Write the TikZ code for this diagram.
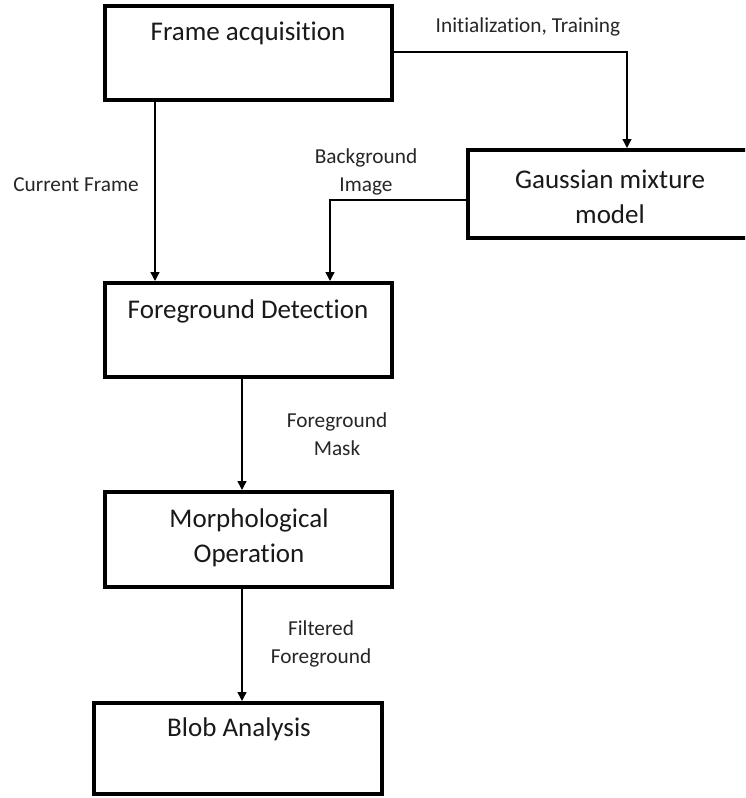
\documentclass[tikz,border=0pt]{standalone}
\usepackage{fontspec}
\setmainfont{Carlito}[Ligatures=NoCommon]
\usetikzlibrary{arrows.meta}
\begin{document}
\begin{tikzpicture}[x=1pt,y=-1pt,
  stagebox/.style={draw=black, line width=4pt, rectangle, inner sep=0pt},
  stagetext/.style={font=\fontsize{27}{35}\selectfont, align=center, inner sep=0pt, text=black!90},
  flowlabel/.style={font=\fontsize{21.3}{28}\selectfont, align=center, inner sep=0pt, text=black!85},
  flow/.style={line width=1.4pt, -{Triangle[length=9pt,width=9pt]}}]
\useasboundingbox (0,0) rectangle (745,798);
\clip (0,0) rectangle (745,798);

% processing stages
\node[stagebox, minimum width=287pt, minimum height=94pt] (fa)   at (248.5,52.5) {};
\node[stagebox, minimum width=284pt, minimum height=88pt] (gmm)  at (610,194) {};
\node[stagebox, minimum width=287pt, minimum height=94pt] (fd)   at (248.5,330) {};
\node[stagebox, minimum width=287pt, minimum height=95pt] (mo)   at (248.5,539.5) {};
\node[stagebox, minimum width=288pt, minimum height=91pt] (blob) at (237.5,748.5) {};

% stage titles
\node[stagetext] (fa-t)   at (248,33)  {Frame acquisition};
\node[stagetext] (gmm-t)  at (610,197) {Gaussian mixture\\model};
\node[stagetext] (fd-t)   at (248,311) {Foreground Detection};
\node[stagetext] (mo-t)   at (249,538) {Morphological\\Operation};
\node[stagetext] (blob-t) at (239,729) {Blob Analysis};

% data flow
\draw[flow] (fa.east |- 0,52) -| ([xshift=17pt]gmm.north);
\draw[flow] ([xshift=-93.5pt]fa.south) -- ([xshift=-93.5pt]fd.north);
\draw[flow] ([yshift=-6pt]gmm.west) -| ([xshift=81.5pt]fd.north);
\draw[flow] ([xshift=-6.5pt]fd.south) -- ([xshift=-6.5pt]mo.north);
\draw[flow] ([xshift=-6.5pt]mo.south) -- ([xshift=-6.5pt]mo.south |- blob.north);

% flow labels
\node[flowlabel] (l-init) at (528,27)  {Initialization, Training};
\node[flowlabel] (l-cur)  at (76,185)  {Current Frame};
\node[flowlabel] (l-bg)   at (366,172) {Background\\Image};
\node[flowlabel] (l-mask) at (337,434) {Foreground\\Mask};
\node[flowlabel] (l-filt) at (321,644) {Filtered\\Foreground};
\end{tikzpicture}
\end{document}
